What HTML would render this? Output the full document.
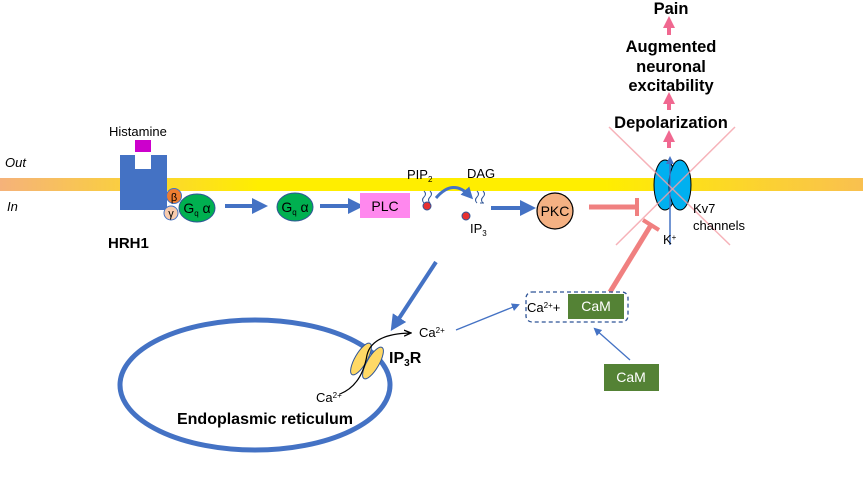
<!DOCTYPE html>
<html><head><meta charset="utf-8"><style>body{margin:0;background:#fff}svg{display:block;font-family:"Liberation Sans",Arial,sans-serif}</style></head>
<body>
<svg width="863" height="490" viewBox="0 0 863 490" xmlns="http://www.w3.org/2000/svg">
<defs>
<linearGradient id="mem" x1="0" x2="1" y1="0" y2="0">
<stop offset="0" stop-color="#f5b27a"/><stop offset="0.3" stop-color="#ffee00"/><stop offset="0.7" stop-color="#ffee00"/><stop offset="1" stop-color="#f9c050"/>
</linearGradient>
<marker id="ab" markerWidth="4" markerHeight="4" refX="2.5" refY="2" orient="auto"><path d="M0,0 L4,2 L0,4 z" fill="#4472c4"/></marker>
<marker id="at" markerWidth="8" markerHeight="8" refX="6" refY="4" orient="auto" markerUnits="userSpaceOnUse"><path d="M0,0 L8,4 L0,8 z" fill="#4472c4"/></marker>
<marker id="ak" markerWidth="8" markerHeight="8" refX="6" refY="4" orient="auto" markerUnits="userSpaceOnUse"><path d="M0,1 L7,4 L0,7" fill="none" stroke="#000" stroke-width="1.3"/></marker>
<marker id="ap" markerWidth="3" markerHeight="3" refX="1.5" refY="1.5" orient="auto"><path d="M0,0 L3,1.5 L0,3 z" fill="#f06890"/></marker>
</defs>
<rect x="0" y="178" width="863" height="13" fill="url(#mem)"/>
<text x="5" y="167" font-size="13" font-style="italic">Out</text>
<text x="7" y="211" font-size="13" font-style="italic">In</text>
<text x="109" y="136" font-size="13">Histamine</text>
<rect x="135" y="140" width="16" height="12" fill="#cc00cc"/>
<path d="M120,155 H135 V169 H151 V155 H167 V210 H120 Z" fill="#4472c4"/>
<text x="108" y="248" font-size="15" font-weight="bold">HRH1</text>
<circle cx="174" cy="196" r="7.5" fill="#ed7d31" stroke="#4472c4"/>
<text x="174" y="201" font-size="11" text-anchor="middle">β</text>
<circle cx="171" cy="213" r="7" fill="#f8cbad" stroke="#4472c4"/>
<text x="171" y="217" font-size="11" text-anchor="middle">γ</text>
<ellipse cx="197" cy="208" rx="18" ry="14" fill="#00b050" stroke="#2f5597"/>
<text x="197" y="213" font-size="14" text-anchor="middle">G<tspan font-size="8" dy="3">q</tspan><tspan dy="-3"> α</tspan></text>
<line x1="225" y1="206" x2="262" y2="206" stroke="#4472c4" stroke-width="4" marker-end="url(#ab)"/>
<ellipse cx="295" cy="207" rx="18" ry="14" fill="#00b050" stroke="#2f5597"/>
<text x="295" y="212" font-size="14" text-anchor="middle">G<tspan font-size="8" dy="3">q</tspan><tspan dy="-3"> α</tspan></text>
<line x1="320" y1="206" x2="358" y2="206" stroke="#4472c4" stroke-width="4" marker-end="url(#ab)"/>
<rect x="360" y="193" width="50" height="25" fill="#ff88ee"/>
<text x="385" y="211" font-size="14" text-anchor="middle">PLC</text>
<text x="407" y="179" font-size="13">PIP<tspan font-size="8" dy="3">2</tspan></text>
<path d="M424,191 q3,3 0,6 q-3,3 0,6 M430,191 q3,3 0,6 q-3,3 0,6" fill="none" stroke="#2f5597" stroke-width="1"/>
<circle cx="427" cy="206" r="4" fill="#e83030" stroke="#2f5597"/>
<path d="M436,198 Q453,178 470,196" fill="none" stroke="#4472c4" stroke-width="3" marker-end="url(#ab)"/>
<text x="467" y="178" font-size="13">DAG</text>
<path d="M477,191 q3,3 0,6 q-3,3 0,6 M483,191 q3,3 0,6 q-3,3 0,6 M480,203 h4" fill="none" stroke="#2f5597" stroke-width="1"/>
<circle cx="466" cy="216" r="4" fill="#e83030" stroke="#2f5597"/>
<text x="470" y="233" font-size="13">IP<tspan font-size="8" dy="3">3</tspan></text>
<line x1="491" y1="208" x2="530" y2="208" stroke="#4472c4" stroke-width="4" marker-end="url(#ab)"/>
<circle cx="555" cy="211" r="18" fill="#f4b183" stroke="#000" stroke-width="1.2"/>
<text x="555" y="216" font-size="14" text-anchor="middle">PKC</text>
<line x1="589" y1="207" x2="637" y2="207" stroke="#f08080" stroke-width="5"/>
<line x1="637" y1="198" x2="637" y2="216" stroke="#f08080" stroke-width="4"/>
<line x1="610" y1="292" x2="651" y2="225" stroke="#f08080" stroke-width="5"/>
<line x1="643" y1="220" x2="659" y2="230" stroke="#f08080" stroke-width="4"/>
<ellipse cx="665" cy="185" rx="11" ry="25" fill="#00b0f0" stroke="#000"/>
<ellipse cx="680" cy="185" rx="11" ry="25" fill="#00b0f0" stroke="#000"/>
<line x1="670" y1="245" x2="670" y2="158" stroke="#4472c4" stroke-width="1.5" marker-end="url(#at)"/>
<line x1="609" y1="127" x2="730" y2="245" stroke="#f4a0a8" stroke-width="1.5" opacity="0.8"/>
<line x1="735" y1="127" x2="616" y2="245" stroke="#f4a0a8" stroke-width="1.5" opacity="0.8"/>
<text x="663" y="244" font-size="13">K<tspan font-size="8" dy="-4">+</tspan></text>
<text x="693" y="213" font-size="13">Kv7</text>
<text x="693" y="230" font-size="13">channels</text>
<g font-size="16.5" font-weight="bold" text-anchor="middle">
<text x="671" y="128">Depolarization</text>
<text x="671" y="91">excitability</text>
<text x="671" y="72">neuronal</text>
<text x="671" y="52">Augmented</text>
<text x="671" y="14">Pain</text>
</g>
<line x1="669" y1="148" x2="669" y2="136" stroke="#f06890" stroke-width="4" marker-end="url(#ap)"/>
<line x1="669" y1="110" x2="669" y2="98" stroke="#f06890" stroke-width="4" marker-end="url(#ap)"/>
<line x1="669" y1="35" x2="669" y2="22" stroke="#f06890" stroke-width="4" marker-end="url(#ap)"/>
<line x1="436" y1="262" x2="394" y2="326" stroke="#4472c4" stroke-width="4" marker-end="url(#ab)"/>
<ellipse cx="255" cy="385" rx="135" ry="65" fill="none" stroke="#4472c4" stroke-width="5"/>
<text x="265" y="424" font-size="16" font-weight="bold" text-anchor="middle">Endoplasmic reticulum</text>
<ellipse cx="361" cy="359" rx="6" ry="18" transform="rotate(30 361 359)" fill="#ffd966" stroke="#2f5597"/>
<ellipse cx="373" cy="363" rx="6" ry="18" transform="rotate(30 373 363)" fill="#ffd966" stroke="#2f5597"/>
<path d="M340,394 Q362,385 367,355 Q372,334 410,333" fill="none" stroke="#000" stroke-width="1.2" marker-end="url(#ak)"/>
<text x="389" y="363" font-size="16" font-weight="bold">IP<tspan font-size="10" dy="3">3</tspan><tspan dy="-3">R</tspan></text>
<text x="419" y="337" font-size="13">Ca<tspan font-size="8" dy="-4">2+</tspan></text>
<text x="316" y="402" font-size="13">Ca<tspan font-size="8" dy="-4">2+</tspan></text>
<line x1="456" y1="330" x2="518" y2="305" stroke="#4472c4" stroke-width="1.3" marker-end="url(#at)"/>
<rect x="526" y="292" width="102" height="30" rx="6" fill="none" stroke="#2f5597" stroke-width="1.3" stroke-dasharray="4,3"/>
<text x="527" y="312" font-size="13">Ca<tspan font-size="8" dy="-4">2+</tspan><tspan dy="4">+</tspan></text>
<rect x="568" y="294" width="56" height="25" fill="#548235"/>
<text x="596" y="311" font-size="14" fill="#fff" text-anchor="middle">CaM</text>
<line x1="630" y1="360" x2="595" y2="329" stroke="#4472c4" stroke-width="1.3" marker-end="url(#at)"/>
<rect x="604" y="364" width="55" height="27" fill="#548235"/>
<text x="631" y="382" font-size="14" fill="#fff" text-anchor="middle">CaM</text>
</svg>
</body></html>
